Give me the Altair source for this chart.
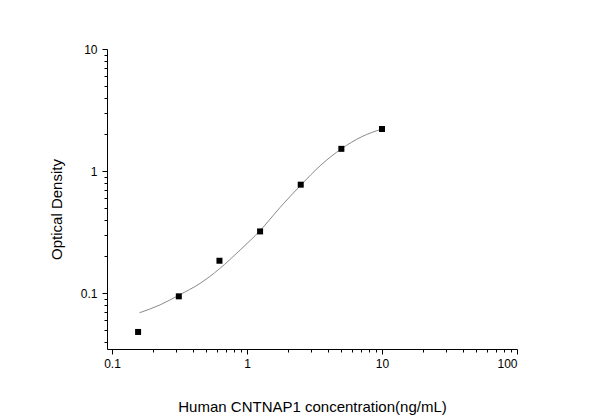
import altair as alt
import pandas as pd

# Standard points (concentration, OD)
conc = [0.156, 0.3125, 0.625, 1.25, 2.5, 5.0, 10.0]
od = [0.048, 0.094, 0.184, 0.32, 0.773, 1.52, 2.21]

# Fitted curve
curve_x = [0.16, 0.227, 0.3125, 0.449, 0.625, 0.888, 1.25, 1.76, 2.5, 3.53, 5.0, 7.07, 10.0]
curve_y = [0.069, 0.080, 0.096, 0.12, 0.158, 0.225, 0.325, 0.504, 0.765, 1.12, 1.52, 1.91, 2.21]

x_ticks = [m * d for d in (0.1, 1, 10) for m in range(1, 10)] + [100]
y_ticks = [m * 0.01 for m in range(4, 10)] + [m * d for d in (0.1, 1) for m in range(1, 10)] + [10]

pts = pd.DataFrame({"x": conc, "y": od})
crv = pd.DataFrame({"x": curve_x, "y": curve_y})

is_major = "abs(log(datum.value)/LN10 - round(log(datum.value)/LN10)) < 0.001"
label_expr = is_major + " ? datum.label : ''"
tick_size = {"condition": {"test": is_major, "value": 5}, "value": 3}

FONT = "Liberation Sans"

x_enc = alt.X(
    "x:Q",
    scale=alt.Scale(type="log", domain=[0.0918, 100], nice=False),
    axis=alt.Axis(
        title="Human CNTNAP1 concentration(ng/mL)",
        values=x_ticks,
        format="~g",
        labelExpr=label_expr,
        tickSize=tick_size,
        labelOverlap=False,
        labelPadding=4,
        titleX=205,
        titleY=57,
        titleBaseline="middle",
        titleAnchor="middle",
    ),
)
y_enc = alt.Y(
    "y:Q",
    scale=alt.Scale(type="log", domain=[0.0348, 10], nice=False),
    axis=alt.Axis(
        title="Optical Density",
        values=y_ticks,
        format="~g",
        labelExpr=label_expr,
        tickSize=tick_size,
        labelOverlap=False,
        labelPadding=5,
        titleX=-51,
        titleY=160,
        titleBaseline="middle",
        titleAlign="center",
        titleAngle=270,
    ),
)

line = alt.Chart(crv).mark_line(color="#8a8a8a", strokeWidth=1, interpolate="monotone").encode(x=x_enc, y=y_enc)
dots = alt.Chart(pts).mark_square(size=36, color="black", opacity=1, filled=True).encode(x="x:Q", y="y:Q")

chart = (
    alt.layer(line, dots)
    .properties(
        width=410,
        height=300,
        autosize=alt.AutoSizeParams(type="none"),
        padding={"left": 99, "top": 41, "right": 75, "bottom": 70},
        background="white",
    )
    .configure_view(stroke=None)
    .configure_axis(
        grid=False,
        domainColor="black",
        tickColor="black",
        labelColor="black",
        titleColor="black",
        labelFont=FONT,
        titleFont=FONT,
        labelFontSize=12,
        titleFontSize=15,
        titleFontWeight="normal",
        domainWidth=1,
        tickWidth=1,
    )
)

chart.save("out.html", embed_options={"renderer": "svg", "actions": False})
